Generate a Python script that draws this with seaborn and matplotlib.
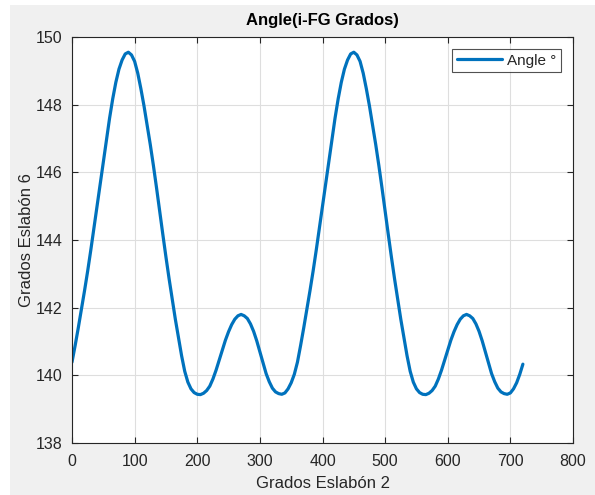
import numpy as np
import pandas as pd
import matplotlib
matplotlib.use("Agg")
import matplotlib.pyplot as plt
import seaborn as sns
from matplotlib.patches import Rectangle

# Data (degrees of link 2 vs degrees of link 6), 5-degree steps
grados_eslabon2 = list(range(0, 725, 5))

periodo_1 = [140.39, 140.88, 141.40, 141.95, 142.50, 143.08, 143.70, 144.35, 145.00, 145.65,
             146.30, 146.97, 147.60, 148.17, 148.66, 149.05, 149.32, 149.50, 149.55, 149.47,
             149.28, 148.93, 148.47, 147.96, 147.40, 146.82, 146.20, 145.54, 144.85, 144.17,
             143.50, 142.86, 142.25, 141.66, 141.12, 140.58, 140.12, 139.80, 139.60, 139.49,
             139.44, 139.43, 139.47, 139.55, 139.68, 139.89, 140.15, 140.45, 140.76, 141.04,
             141.29, 141.50, 141.66, 141.76, 141.80, 141.76, 141.68, 141.52, 141.30, 141.02,
             140.70, 140.37, 140.05, 139.81, 139.62, 139.51, 139.46, 139.44, 139.48, 139.60,
             139.78, 140.03]
periodo_2 = [140.39, 140.88, 141.40, 141.95, 142.50, 143.08, 143.70, 144.35, 145.00, 145.65,
             146.30, 146.97, 147.60, 148.17, 148.66, 149.05, 149.32, 149.50, 149.55, 149.47,
             149.28, 148.93, 148.47, 147.96, 147.40, 146.82, 146.20, 145.54, 144.85, 144.17,
             143.50, 142.86, 142.25, 141.66, 141.12, 140.58, 140.12, 139.80, 139.60, 139.49,
             139.44, 139.43, 139.47, 139.55, 139.68, 139.89, 140.15, 140.45, 140.76, 141.04,
             141.29, 141.50, 141.66, 141.76, 141.80, 141.76, 141.68, 141.52, 141.30, 141.02,
             140.70, 140.37, 140.05, 139.81, 139.62, 139.51, 139.46, 139.44, 139.48, 139.60,
             139.78, 140.03, 140.33]
grados_eslabon6 = periodo_1 + periodo_2

x_ticks = [0, 100, 200, 300, 400, 500, 600, 700, 800]
y_ticks = [138, 140, 142, 144, 146, 148, 150]

df = pd.DataFrame({"x": grados_eslabon2, "y": grados_eslabon6})

sns.set_style("white")
plt.rcParams["font.family"] = ["Liberation Sans", "DejaVu Sans"]

fig = plt.figure(figsize=(5.95, 4.95), dpi=100, facecolor="#f0f0f0")
ax = fig.add_axes([72 / 595, 1 - 443 / 495, (573 - 72) / 595, (443 - 37) / 495])
ax.set_facecolor("white")

# white strips at the image edges, as in the reference
fig.patches.append(Rectangle((0, 0), 10 / 595, 1, transform=fig.transFigure,
                             facecolor="white", edgecolor="none", zorder=-1))
fig.patches.append(Rectangle((0, 1 - 5 / 495), 1, 5 / 495, transform=fig.transFigure,
                             facecolor="white", edgecolor="none", zorder=-1))

sns.lineplot(data=df, x="x", y="y", ax=ax, color="#0072BD", linewidth=2.3,
             label="Angle °", sort=False)

ax.set_xlim(0, 800)
ax.set_ylim(138, 150)
ax.set_xticks(x_ticks)
ax.set_yticks(y_ticks)
ax.grid(True, color="#dedede", linewidth=0.8)
ax.set_axisbelow(True)

for s in ax.spines.values():
    s.set_color("#262626")
    s.set_linewidth(0.8)
    s.set_visible(True)

ax.tick_params(direction="in", length=4, width=0.8, color="#262626",
               labelcolor="#262626", labelsize=11.5, top=True, right=True,
               bottom=True, left=True)
ax.tick_params(axis="x", pad=8)
ax.tick_params(axis="y", pad=7)

ax.set_xlabel("Grados Eslabón 2", fontsize=12, color="#262626", labelpad=5)
ax.set_ylabel("Grados Eslabón 6", fontsize=12, color="#262626", labelpad=1)
ax.set_title("Angle(i-FG Grados)", fontsize=12, fontweight="bold", color="black", pad=9)

leg = ax.legend(loc="upper right", frameon=True, fancybox=False, fontsize=11,
                handlelength=3.0, borderpad=0.3, handletextpad=0.3,
                borderaxespad=0.8)
leg.get_frame().set_edgecolor("#262626")
leg.get_frame().set_linewidth(0.8)
for t in leg.get_texts():
    t.set_color("#262626")

fig.savefig("out.png", dpi=100, facecolor=fig.get_facecolor())
